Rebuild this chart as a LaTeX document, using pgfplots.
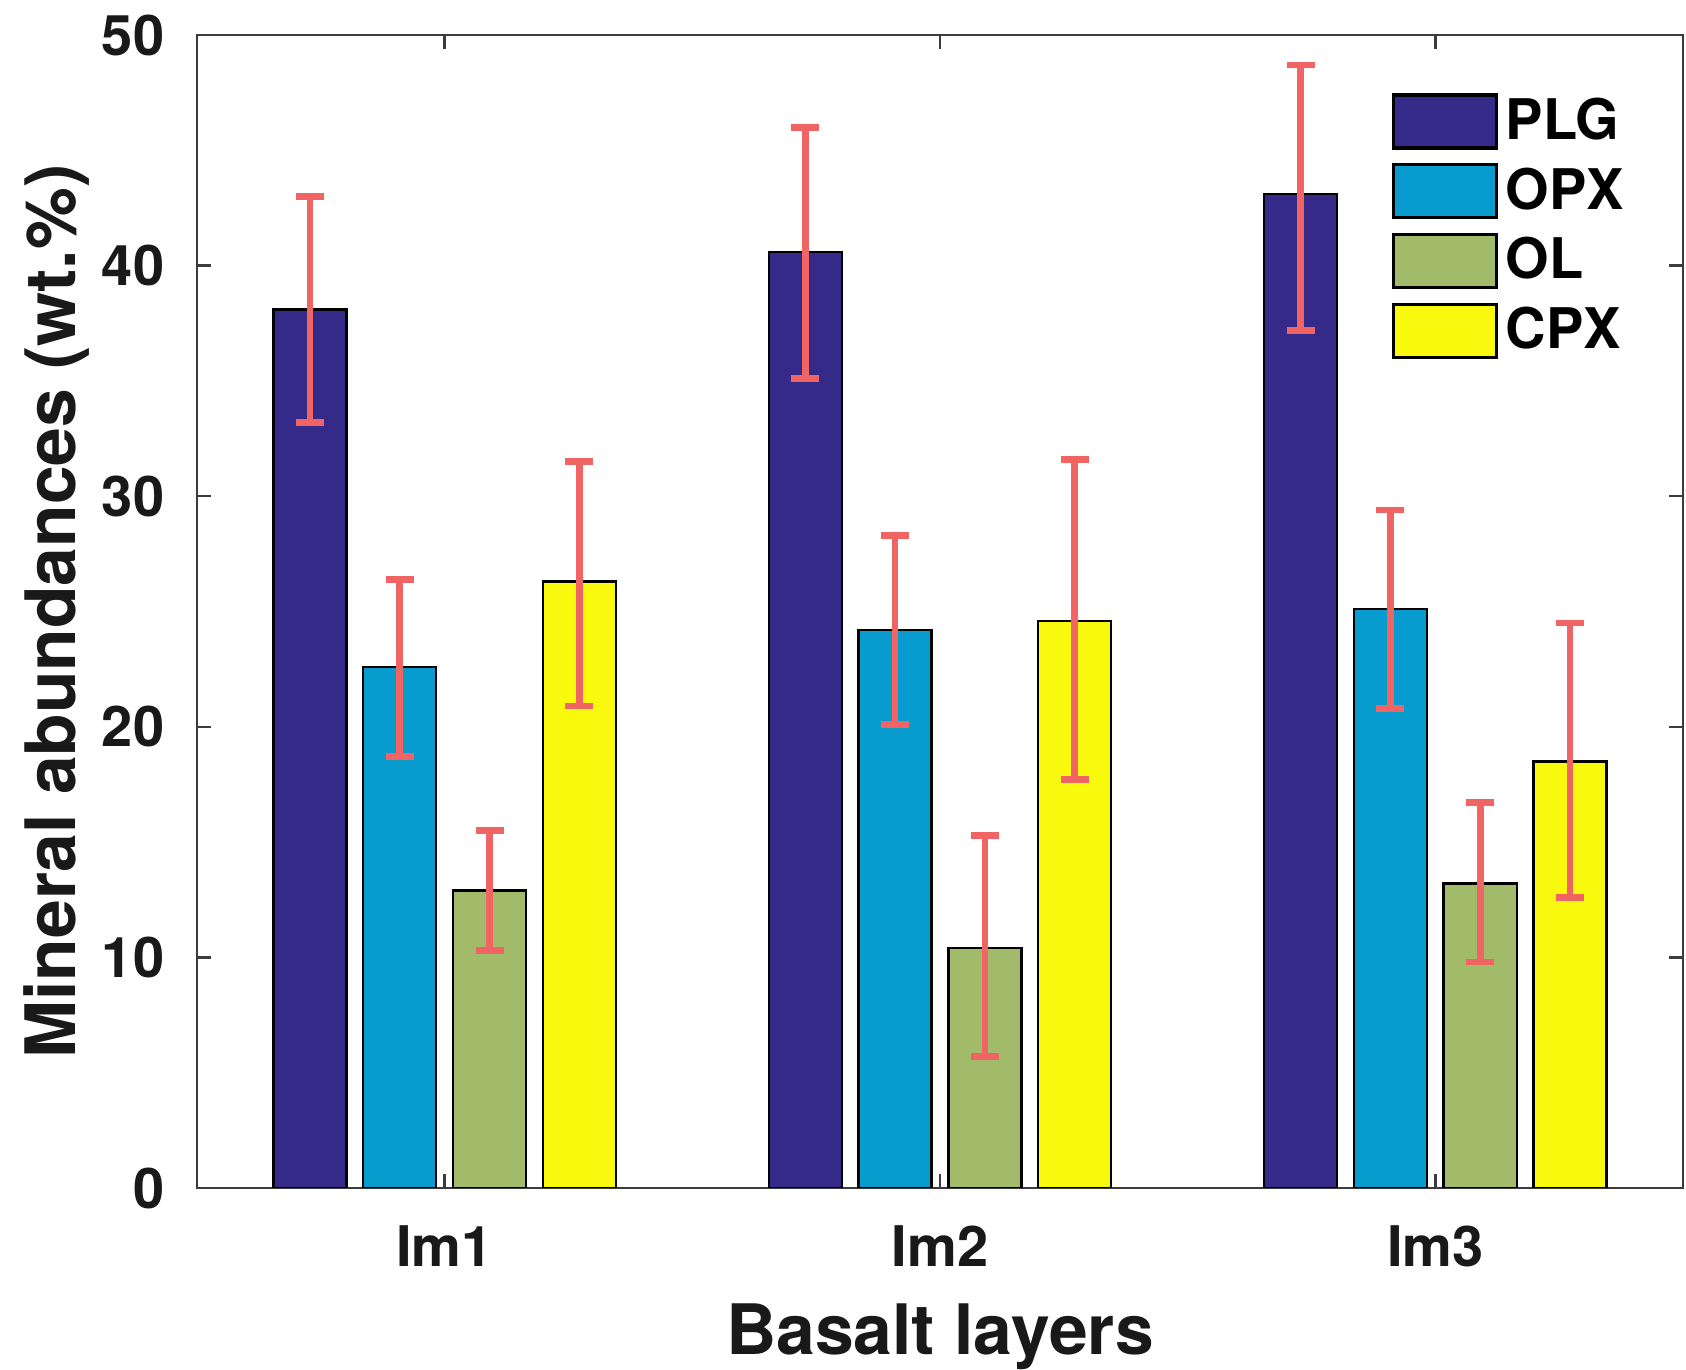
\documentclass[border=0pt]{standalone}
\usepackage{pgfplots}
\pgfplotsset{compat=1.18}
\usepackage{pgfplotstable}
\usepackage{fontspec}
\setmainfont{TeX Gyre Heros}
\definecolor{cPLG}{RGB}{53,42,135}
\definecolor{cOPX}{RGB}{8,156,206}
\definecolor{cOL}{RGB}{162,187,106}
\definecolor{cCPX}{RGB}{249,249,14}
\definecolor{errc}{RGB}{240,100,100}
\definecolor{axc}{RGB}{60,60,60}

\pgfplotstableread{
x y ep em
0.7280 38.1 4.9 4.9
1.7280 40.6 5.4 5.5
2.7280 43.1 5.6 5.9
}\plg
\pgfplotstableread{
x y ep em
0.9093 22.6 3.8 3.9
1.9093 24.2 4.1 4.1
2.9093 25.1 4.3 4.3
}\opx
\pgfplotstableread{
x y ep em
1.0907 12.9 2.6 2.6
2.0907 10.4 4.9 4.7
3.0907 13.2 3.5 3.4
}\ol
\pgfplotstableread{
x y ep em
1.2720 26.3 5.2 5.4
2.2720 24.6 7.0 6.9
3.2720 18.5 6.0 5.9
}\cpx

\pgfplotsset{
  mybar/.style={
    ybar, bar width=0.1476, bar shift=0pt,
    draw=black, line width=0.6pt,
    legend image code/.code={\draw[##1, line width=0.8pt] (0pt,-6.625pt) rectangle (25.75pt,6.625pt);},
    error bars/y dir=both, error bars/y explicit,
    error bars/error bar style={color=errc, line width=1.7pt},
    error bars/error mark options={rotate=90, mark size=3.5pt, line width=1.7pt, color=errc},
  },
}

\begin{document}
\begin{tikzpicture}
\useasboundingbox (-49.25pt,-45.5pt) rectangle (372.25pt,297pt);
\begin{axis}[
  at={(0,0)}, anchor=south west,
  scale only axis, width=371.5pt, height=288.25pt,
  xmin=0.5, xmax=3.5, ymin=0, ymax=50,
  xtick={1,2,3}, xticklabels={Im1,Im2,Im3},
  ytick={0,10,20,30,40,50},
  tick align=inside, major tick length=3.5pt,
  tick style={axc, line width=0.6pt},
  axis line style={axc, line width=0.7pt},
  /pgf/number format/assume math mode=true,
  ticklabel style={font=\fontsize{14}{16}\selectfont\bfseries, text=black!90},
  yticklabel style={inner sep=0pt, xshift=-8pt},
  xticklabel style={inner sep=0pt, yshift=-9.25pt},
  label style={font=\fontsize{17.4}{20}\selectfont\bfseries, text=black!90},
  xlabel={Basalt layers},
  ylabel={Mineral abundances (wt.\%)},
  xlabel style={at={(axis description cs:0.5,0)}, anchor=north, inner sep=0pt, yshift=-28.75pt},
  ylabel style={at={(axis description cs:-0.072,0.5)}, anchor=south, inner sep=0pt},
  legend style={at={(axis description cs:0.8035,0.950)}, anchor=north west,
    draw=none, fill=none, inner sep=0pt, row sep=3.4pt, column sep=2pt,
    font=\fontsize{14}{16}\selectfont\bfseries, nodes={inner sep=0pt}},
  legend cell align=left,
]
\addplot[mybar, fill=cPLG] table[x=x, y=y, y error plus=ep, y error minus=em] {\plg};
\addlegendentry{PLG}
\addplot[mybar, fill=cOPX] table[x=x, y=y, y error plus=ep, y error minus=em] {\opx};
\addlegendentry{OPX}
\addplot[mybar, fill=cOL] table[x=x, y=y, y error plus=ep, y error minus=em] {\ol};
\addlegendentry{OL}
\addplot[mybar, fill=cCPX] table[x=x, y=y, y error plus=ep, y error minus=em] {\cpx};
\addlegendentry{CPX}
\end{axis}
\end{tikzpicture}
\end{document}
